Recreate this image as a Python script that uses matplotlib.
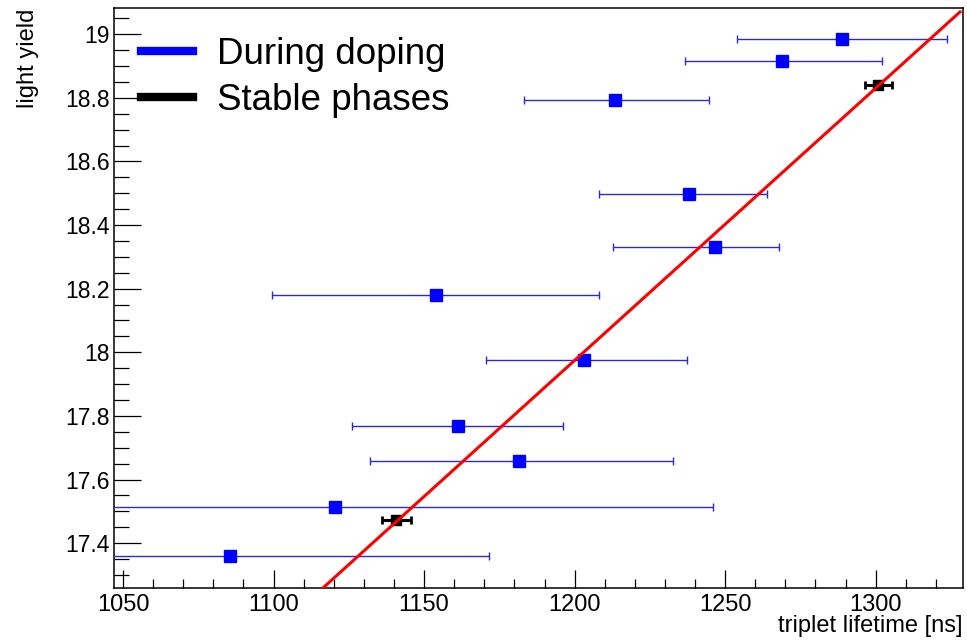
import matplotlib
matplotlib.use("Agg")
import matplotlib.pyplot as plt
from matplotlib.lines import Line2D
from matplotlib.ticker import MultipleLocator, FuncFormatter
import numpy as np

plt.rcParams['font.family'] = ['Liberation Sans', 'DejaVu Sans']

# ---- data ----
doping_x = [1288.9, 1268.9, 1213.5, 1238.1, 1246.7, 1153.8, 1203.2, 1161.1, 1181.6, 1120.3, 1085.4]
doping_y = [18.985, 18.916, 18.793, 18.498, 18.331, 18.180, 17.976, 17.769, 17.659, 17.514, 17.360]
doping_xerr_lo = [34.9, 32.1, 30.2, 29.9, 33.8, 54.4, 32.5, 34.9, 49.7, 125.7, 86.3]
doping_xerr_hi = [34.8, 33.2, 31.2, 25.8, 21.3, 54.4, 34.2, 35.1, 51.2, 125.7, 86.2]

stable_x = [1140.8, 1300.8]
stable_y = [17.473, 18.841]
stable_xerr = [4.8, 4.5]

fit_slope = 0.008558
fit_intercept = 7.705
fit_range = [1110.0, 1328.0]

x_limits = [1047.0, 1329.0]
y_limits = [17.259, 19.084]

legend_labels = ["During doping", "Stable phases"]
x_label = "triplet lifetime [ns]"
y_label = "light yield"

# ---- figure ----
W, H = 967, 642
fig = plt.figure(figsize=(W / 100, H / 100), dpi=100)
ax = fig.add_axes([114 / W, 1 - 588 / H, (963 - 114) / W, (588 - 7.5) / H])

ax.errorbar(doping_x, doping_y, xerr=[doping_xerr_lo, doping_xerr_hi],
            fmt='s', color='#0000ff', markersize=8, ecolor='#2a2ad0',
            elinewidth=1.0, capsize=2.6, capthick=1.0, zorder=3)
ax.errorbar(stable_x, stable_y, xerr=stable_xerr, fmt='s', color='black',
            markersize=7, ecolor='black', elinewidth=2.2, capsize=3.2,
            capthick=2.0, zorder=4)

fx = np.array(fit_range)
ax.plot(fx, fit_slope * fx + fit_intercept, color='#ff0000', lw=2.2, zorder=5)

ax.set_xlim(x_limits)
ax.set_ylim(y_limits)

ax.xaxis.set_major_locator(MultipleLocator(50))
ax.xaxis.set_minor_locator(MultipleLocator(10))
ax.yaxis.set_major_locator(MultipleLocator(0.2))
ax.yaxis.set_minor_locator(MultipleLocator(0.05))
ax.yaxis.set_major_formatter(FuncFormatter(lambda v, p: f"{v:g}"))
ax.xaxis.set_major_formatter(FuncFormatter(lambda v, p: f"{v:g}"))

ax.tick_params(axis='both', which='both', direction='in', top=False, right=False,
               width=0.9, colors='black')
ax.tick_params(axis='x', which='major', length=13, pad=4, labelsize=17)
ax.tick_params(axis='x', which='minor', length=6.5)
ax.tick_params(axis='y', which='major', length=19.5, pad=3, labelsize=16.5)
ax.tick_params(axis='y', which='minor', length=11)
for s in ax.spines.values():
    s.set_linewidth(1.1)

fig.text(28 / W, 1 - 9 / H, y_label, rotation=90, ha='center', va='top', fontsize=17)
fig.text(963 / W, 1 - 632 / H, x_label, ha='right', va='baseline', fontsize=17)

handles = [Line2D([], [], color='#0000ff', lw=6),
           Line2D([], [], color='black', lw=6)]
fs = 26.5
fs_px = fs * 100 / 72
ax.legend(handles, legend_labels, loc='upper left', frameon=False, fontsize=fs,
          handlelength=52.6 / fs_px, handletextpad=23.7 / fs_px,
          borderpad=0, borderaxespad=0, labelspacing=0.30,
          bbox_to_anchor=((140.7 - 114) / 849, 1 - (37.1 - 7.5) / 580.5))

fig.savefig("out.png", dpi=100)
